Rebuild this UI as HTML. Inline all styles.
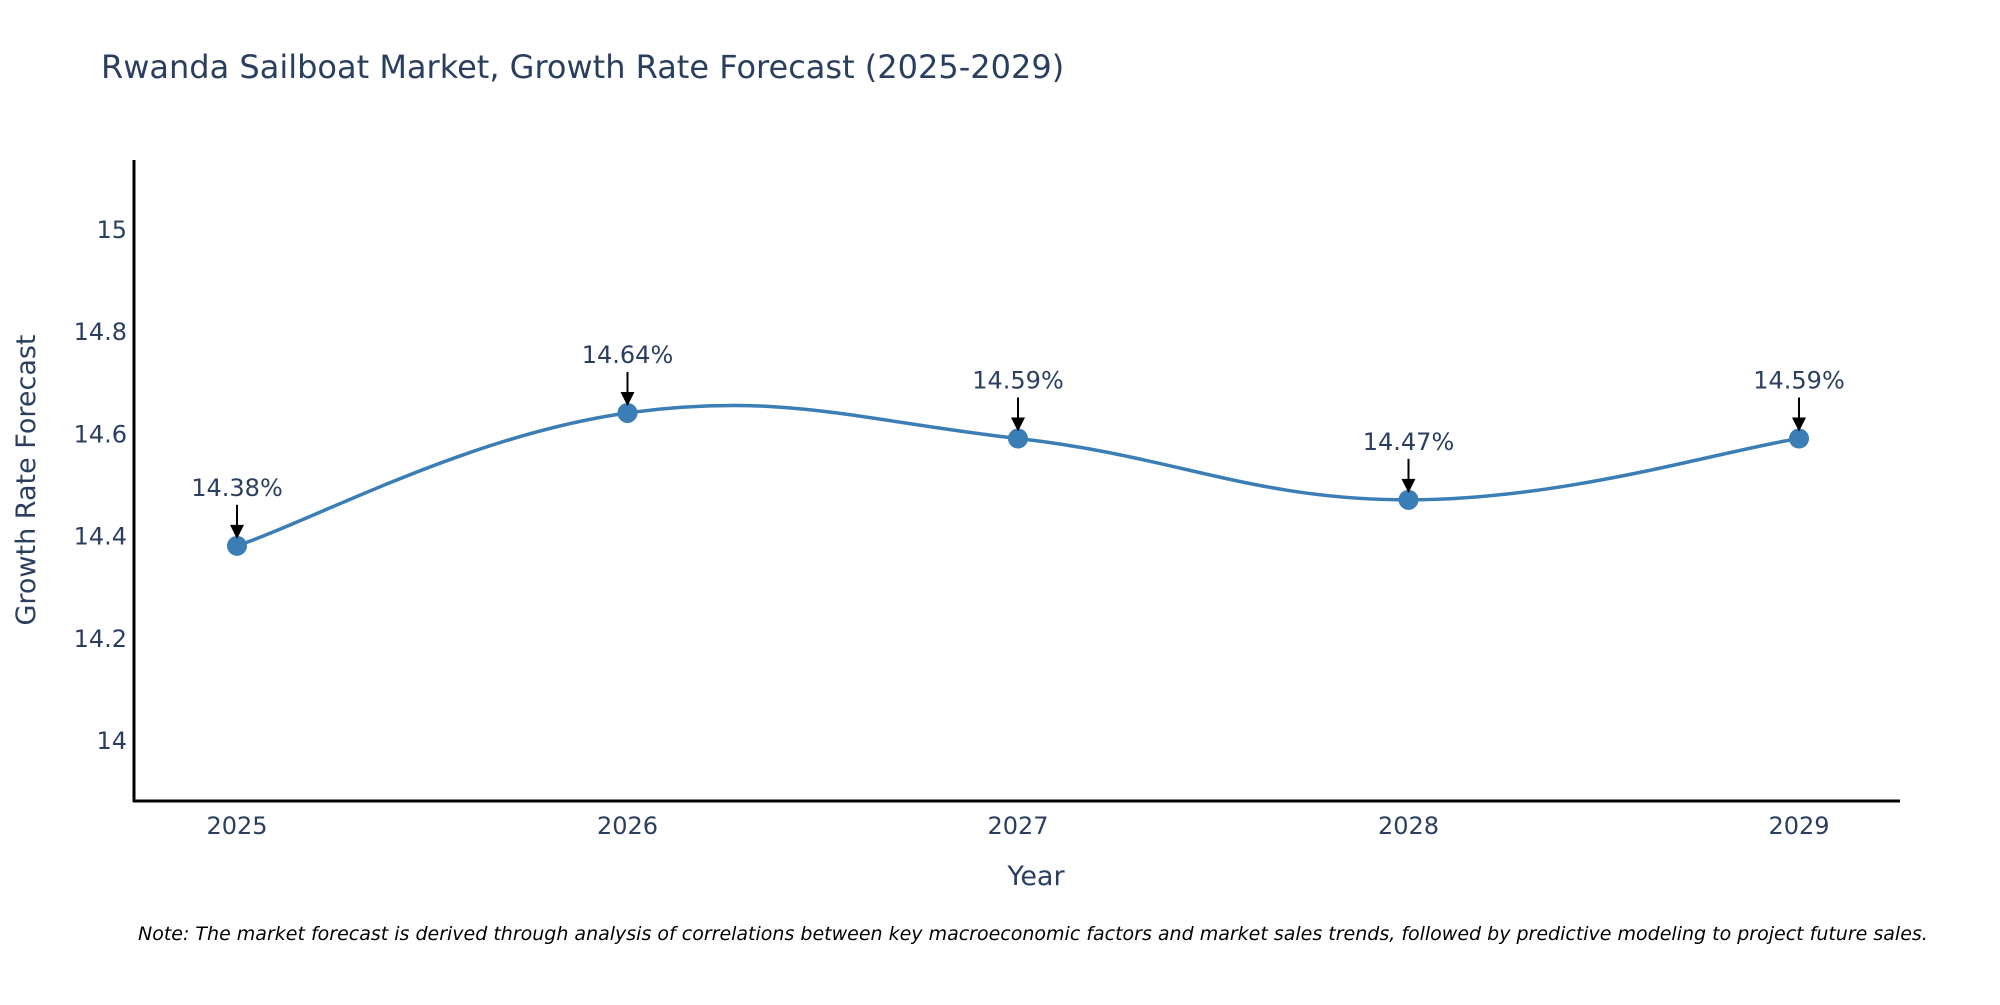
<!DOCTYPE html>
<html><head><meta charset="utf-8"><style>
body{margin:0;background:#fff}
svg text{font-family:"DejaVu Sans","Liberation Sans",sans-serif;fill:#2a3f5f}
</style></head><body>
<svg id="chart" width="2000" height="1000" xmlns="http://www.w3.org/2000/svg">
<text x="101" y="78" font-size="32">Rwanda Sailboat Market, Growth Rate Forecast (2025-2029)</text>
<g id="yticks"></g>
<g id="xticks"></g>
<line x1="134" y1="160" x2="134" y2="802" stroke="#000" stroke-width="3"/>
<line x1="133" y1="801" x2="1900" y2="801" stroke="#000" stroke-width="3"/>
<text transform="translate(35,480) rotate(-90)" text-anchor="middle" font-size="27">Growth Rate Forecast</text>
<text x="1036" y="885" text-anchor="middle" font-size="27">Year</text>
<g id="series"></g>
<text x="138" y="940" font-size="19" font-style="italic" style="fill:#000">Note: The market forecast is derived through analysis of correlations between key macroeconomic factors and market sales trends, followed by predictive modeling to project future sales.</text>
</svg>
<script>
const years = ["2025","2026","2027","2028","2029"];
const values = [14.38, 14.64, 14.59, 14.47, 14.59];
const labels = ["14.38%","14.64%","14.59%","14.47%","14.59%"];
const yTicks = [14, 14.2, 14.4, 14.6, 14.8, 15];
const NS="http://www.w3.org/2000/svg";
function xs(i){return 237 + i*390.5;}
function ys(v){return 740 - (v-14)*511;}
function mk(tag,attrs,parent){const e=document.createElementNS(NS,tag);for(const k in attrs)e.setAttribute(k,attrs[k]);parent.appendChild(e);return e;}
const yg=document.getElementById('yticks');
yTicks.forEach(t=>{
  const e=mk('text',{x:127,y:ys(t)+9,'text-anchor':'end','font-size':24},yg);
  
  
  e.textContent=String(t);
});
const xg=document.getElementById('xticks');
years.forEach((y,i)=>{
  const e=mk('text',{x:xs(i),y:834,'text-anchor':'middle','font-size':24},xg);
  
  
  e.textContent=y;
});
const sg=document.getElementById('series');
const P=values.map((v,i)=>[xs(i),ys(v)]);
let d='M'+P[0][0]+','+P[0][1];
const s=0.2;
for(let i=0;i<P.length-1;i++){
  const p0=P[Math.max(i-1,0)],p1=P[i],p2=P[i+1],p3=P[Math.min(i+2,P.length-1)];
  const c1=[p1[0]+(p2[0]-p0[0])*s,p1[1]+(p2[1]-p0[1])*s];
  const c2=[p2[0]-(p3[0]-p1[0])*s,p2[1]-(p3[1]-p1[1])*s];
  d+=' C'+c1+' '+c2+' '+p2;
}
const line=mk('path',{d:d,fill:'none',stroke:'#3b7db5','stroke-width':3.5},sg);


P.forEach((p,i)=>{
  const c=mk('circle',{cx:p[0],cy:p[1],r:10,fill:'#3b7db5'},sg);
  
  
  const a=mk('line',{x1:p[0],y1:p[1]-41,x2:p[0],y2:p[1]-20,stroke:'#000','stroke-width':2},sg);
  
  
  const h=mk('polygon',{points:(p[0]-7)+','+(p[1]-21)+' '+(p[0]+7)+','+(p[1]-21)+' '+p[0]+','+(p[1]-7),fill:'#000'},sg);
  
  
  const t=mk('text',{x:p[0],y:p[1]-50,'text-anchor':'middle','font-size':24},sg);
  
  
  t.textContent=labels[i];
});
</script>
</body></html>
